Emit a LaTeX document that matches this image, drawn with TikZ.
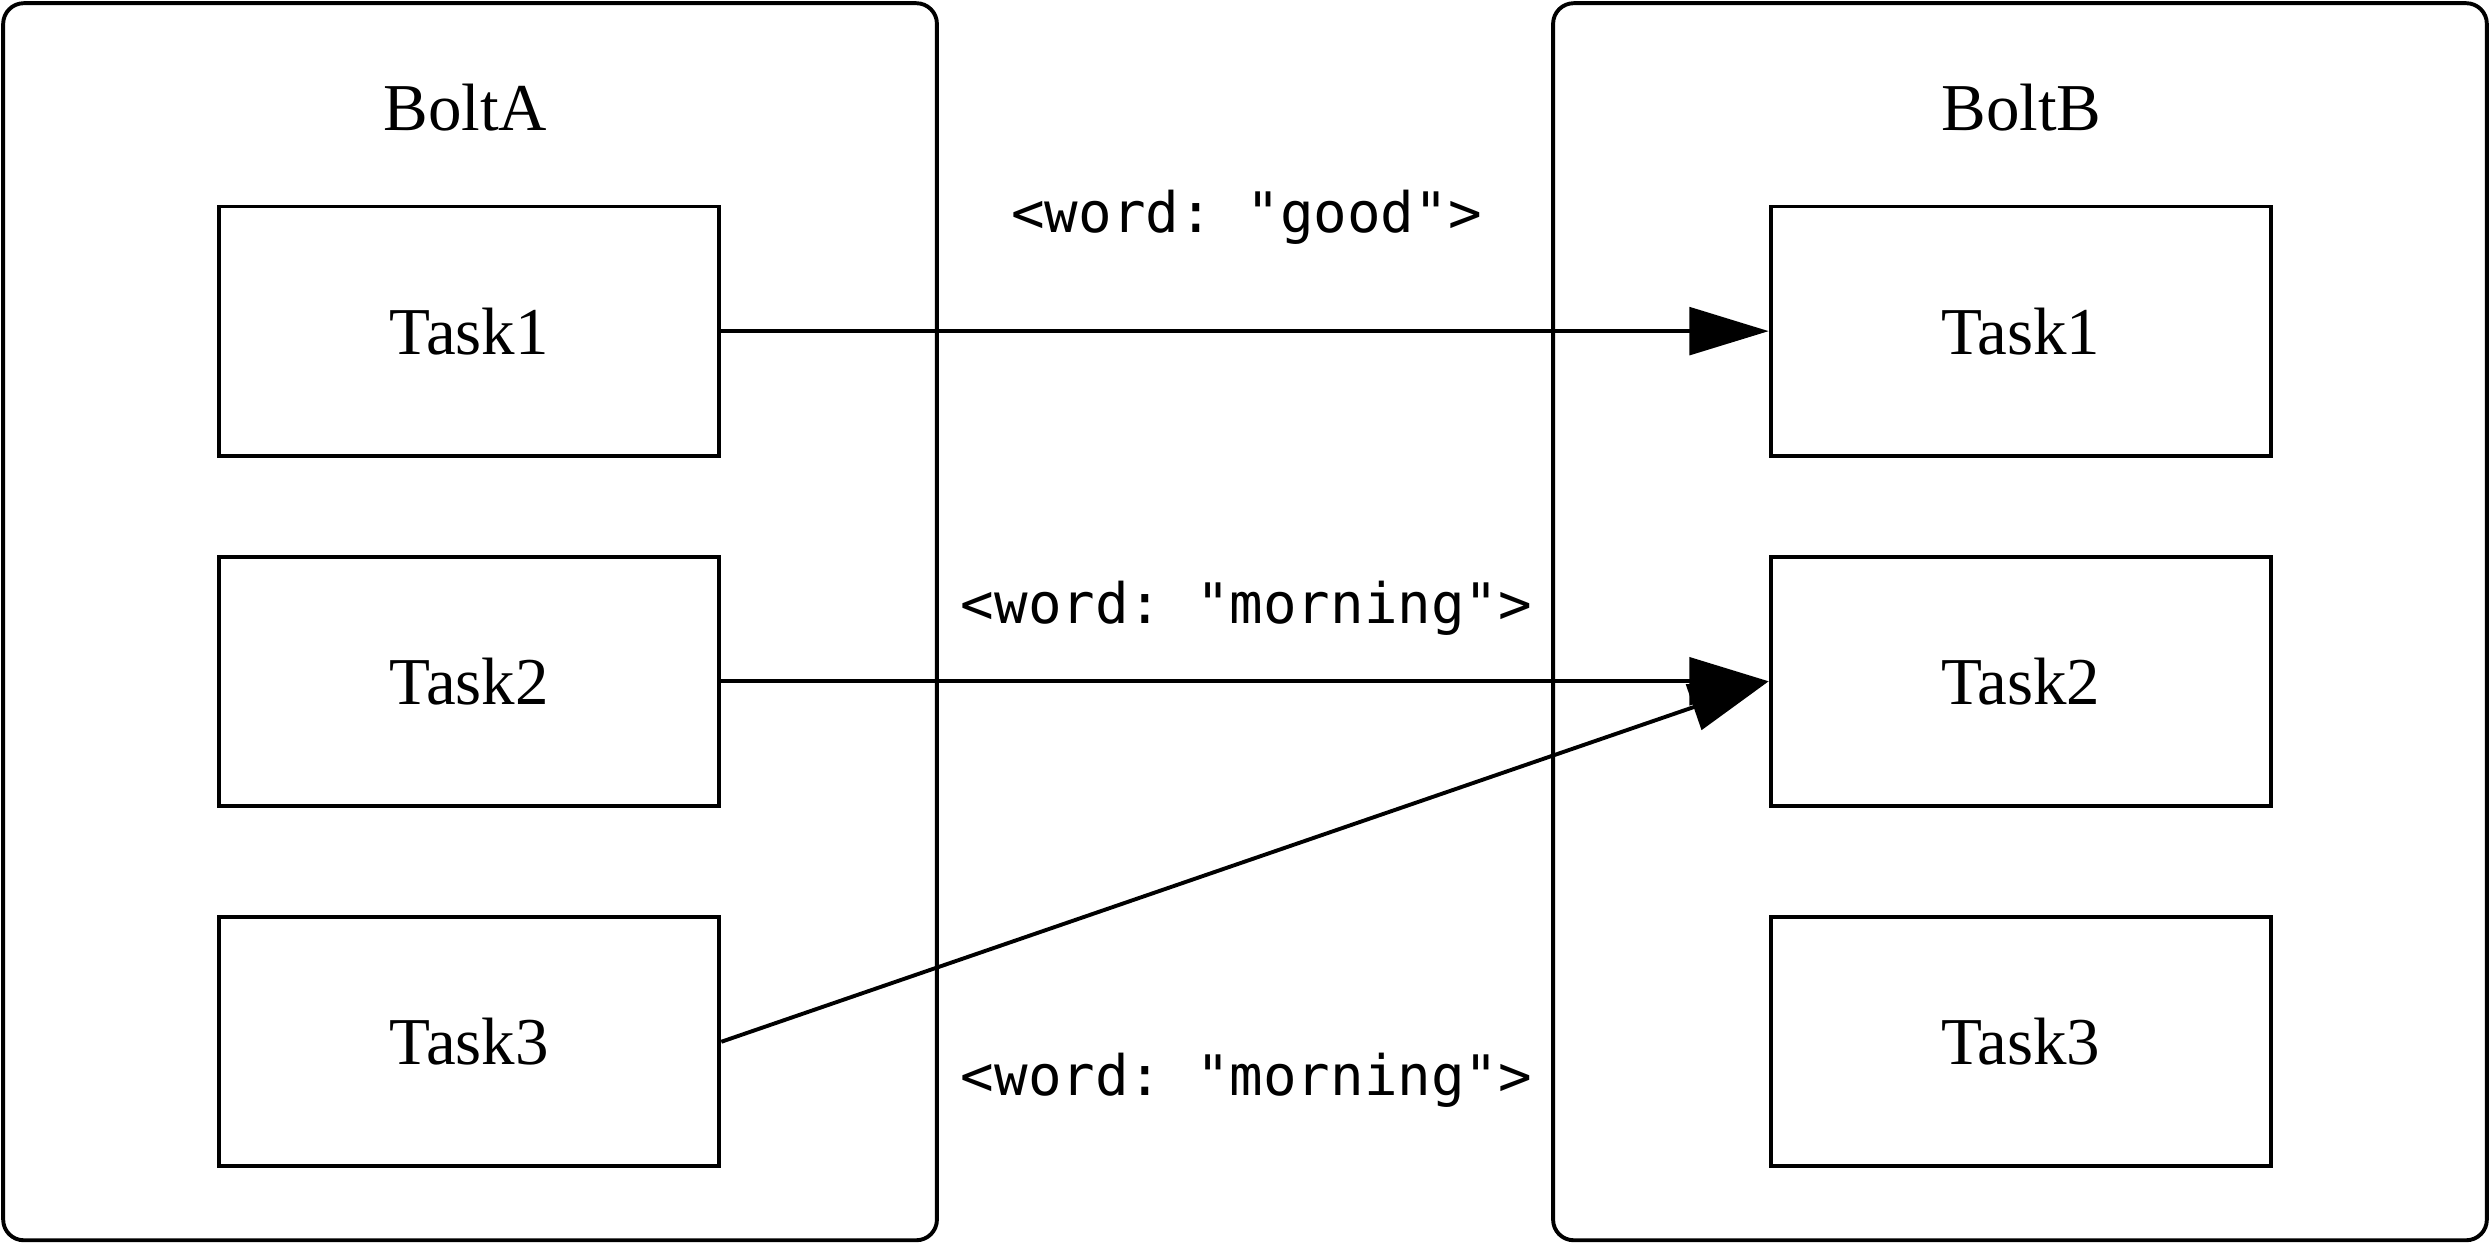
\documentclass[tikz,border=0pt]{standalone}
\usepackage{fontspec}
\setmainfont{Liberation Serif}
\setmonofont{DejaVu Sans Mono}
\usetikzlibrary{arrows.meta}

\begin{document}
\begin{tikzpicture}[>={Triangle[length=5mm,width=3mm]},line width=0.7pt,
    bolt/.style={draw,rounded corners=1.3mm,minimum width=5.88cm,minimum height=7.79cm},
    task/.style={draw,minimum width=3.15cm,minimum height=1.57cm,font=\fontsize{12}{14}\selectfont},
    title/.style={font=\fontsize{12}{14}\selectfont},
    tuple/.style={font=\ttfamily\fontsize{10}{12}\selectfont}]
                \useasboundingbox (0,0) rectangle (15.68,-7.84);

                % bolts
                \node[bolt] (boltA) at(2.96,-3.915) {};
                \node[title] (nameA) at(2.93,-0.68) {BoltA};
                \node[bolt] (boltB) at(12.72,-3.915) {};
                \node[title] (nameB) at(12.73,-0.68) {BoltB};

                % tasks
                \node[task] (a1) at(2.955,-2.085) {Task1};
                \node[task] (a2) at(2.955,-4.29) {Task2};
                \node[task] (a3) at(2.955,-6.56) {Task3};
                \node[task] (b1) at(12.725,-2.085) {Task1};
                \node[task] (b2) at(12.725,-4.29) {Task2};
                \node[task] (b3) at(12.725,-6.56) {Task3};

                \draw[->] (a1.east)--(b1.west);
                \draw[->] (a2.east)--(b2.west);
                \draw[->] (a3.east)--(b2.west);

                \node[tuple] (w1) at(7.85,-1.37) {<word: "good">};
                \node[tuple] (w2) at(7.85,-3.83) {<word: "morning">};
                \node[tuple] (w3) at(7.85,-6.80) {<word: "morning">};
            \end{tikzpicture}
\end{document}
